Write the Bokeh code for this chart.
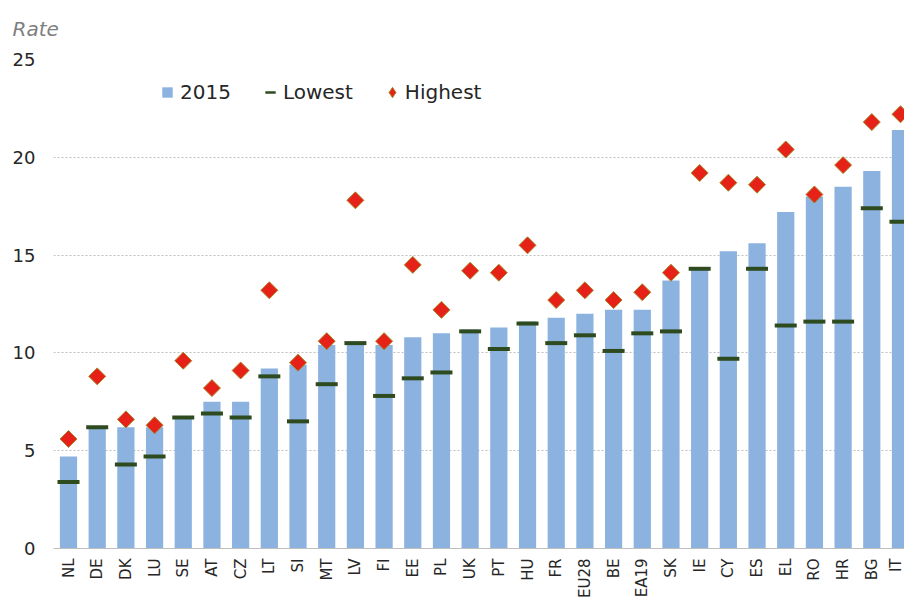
import math
from bokeh.plotting import figure
from bokeh.models import Range1d, FixedTicker, Legend, LegendItem, ColumnDataSource
from bokeh.embed import file_html
from bokeh.resources import INLINE

countries = ["NL", "DE", "DK", "LU", "SE", "AT", "CZ", "LT", "SI", "MT", "LV", "FI", "EE", "PL",
             "UK", "PT", "HU", "FR", "EU28", "BE", "EA19", "SK", "IE", "CY", "ES", "EL", "RO",
             "HR", "BG", "IT"]
rate_2015 = [4.7, 6.2, 6.2, 6.2, 6.7, 7.5, 7.5, 9.2, 9.4, 10.4, 10.5, 10.4, 10.8, 11.0,
             11.2, 11.3, 11.6, 11.8, 12.0, 12.2, 12.2, 13.7, 14.3, 15.2, 15.6, 17.2, 18.0,
             18.5, 19.3, 21.4]
lowest = [3.4, 6.2, 4.3, 4.7, 6.7, 6.9, 6.7, 8.8, 6.5, 8.4, 10.5, 7.8, 8.7, 9.0,
          11.1, 10.2, 11.5, 10.5, 10.9, 10.1, 11.0, 11.1, 14.3, 9.7, 14.3, 11.4, 11.6,
          11.6, 17.4, 16.7]
highest = [5.6, 8.8, 6.6, 6.3, 9.6, 8.2, 9.1, 13.2, 9.5, 10.6, 17.8, 10.6, 14.5, 12.2,
           14.2, 14.1, 15.5, 12.7, 13.2, 12.7, 13.1, 14.1, 19.2, 18.7, 18.6, 20.4, 18.1,
           19.6, 21.8, 22.2]
y_ticks = [0, 5, 10, 15, 20, 25]

xs = list(range(len(countries)))
src = ColumnDataSource(dict(x=xs, rate=rate_2015, low=lowest, high=highest))

BAR = "#8cb2e0"
GREEN = "#2e4b1f"
RED = "#e62117"
EDGE = "#a6852a"
FONT = "DejaVu Sans"

p = figure(width=904, height=603, output_backend="svg", toolbar_location=None,
           x_range=Range1d(-0.523, 29.14), y_range=Range1d(0, 25),
           min_border_left=53, min_border_right=0, min_border_top=58, min_border_bottom=55)
p.outline_line_color = None

bars = p.vbar(x="x", top="rate", width=0.6, source=src, fill_color=BAR, line_color=None)
low_r = p.scatter(x="x", y="low", source=src, marker="dash", size=22, line_width=4,
                  line_color=GREEN)
high_r = p.scatter(x="x", y="high", source=src, marker="square", angle=math.pi / 4, size=12,
                   fill_color=RED, line_color=EDGE, line_width=1)

# legend-only renderers (no visible data)
nan = float("nan")
leg_bar = p.scatter(x=[nan], y=[nan], marker="square", fill_color=BAR, line_color=None)
leg_low = p.scatter(x=[nan], y=[nan], marker="dash", line_color=GREEN, line_width=2.5)
leg_high = p.scatter(x=[nan], y=[nan], marker="diamond", fill_color=RED, line_color=EDGE,
                     line_width=1)

# axes
p.xaxis.ticker = FixedTicker(ticks=xs)
p.xaxis.major_label_overrides = {i: c for i, c in zip(xs, countries)}
p.xaxis.major_label_orientation = math.pi / 2
p.xaxis.axis_line_color = "#bfbfbf"
p.xaxis.major_tick_line_color = None
p.xaxis.minor_tick_line_color = None
p.xaxis.major_tick_out = 0
p.xaxis.major_label_standoff = 10
p.xaxis.major_label_text_font = FONT
p.xaxis.major_label_text_font_size = "15px"
p.xaxis.major_label_text_color = "#262626"

p.yaxis.ticker = FixedTicker(ticks=y_ticks)
p.yaxis.axis_line_color = None
p.yaxis.major_tick_line_color = None
p.yaxis.minor_tick_line_color = None
p.yaxis.major_tick_out = 0
p.yaxis.major_label_standoff = 18
p.yaxis.major_label_text_font = FONT
p.yaxis.major_label_text_font_size = "18px"
p.yaxis.major_label_text_color = "#262626"

p.xgrid.grid_line_color = None
p.ygrid.grid_line_color = "#bfbfbf"
p.ygrid.grid_line_dash = "2 2"

# title
p.title.text = "Rate"
p.title.align = "left"
p.title.vertical_align = "top"
p.title.offset = -41
p.title.standoff = 33
p.title.text_font = FONT
p.title.text_font_style = "italic"
p.title.text_font_size = "20px"
p.title.text_color = "#7f7f7f"

legend = Legend(items=[LegendItem(label="2015", renderers=[leg_bar]),
                       LegendItem(label="Lowest", renderers=[leg_low]),
                       LegendItem(label="Highest", renderers=[leg_high])],
                orientation="horizontal", location=(101, 443),
                glyph_width=26, glyph_height=26, label_standoff=0, spacing=26,
                padding=0, margin=0, border_line_color=None, background_fill_alpha=0,
                label_text_font=FONT, label_text_font_size="20px",
                label_text_color="#262626")
p.add_layout(legend)

open("out.html", "w").write(file_html(p, INLINE))
